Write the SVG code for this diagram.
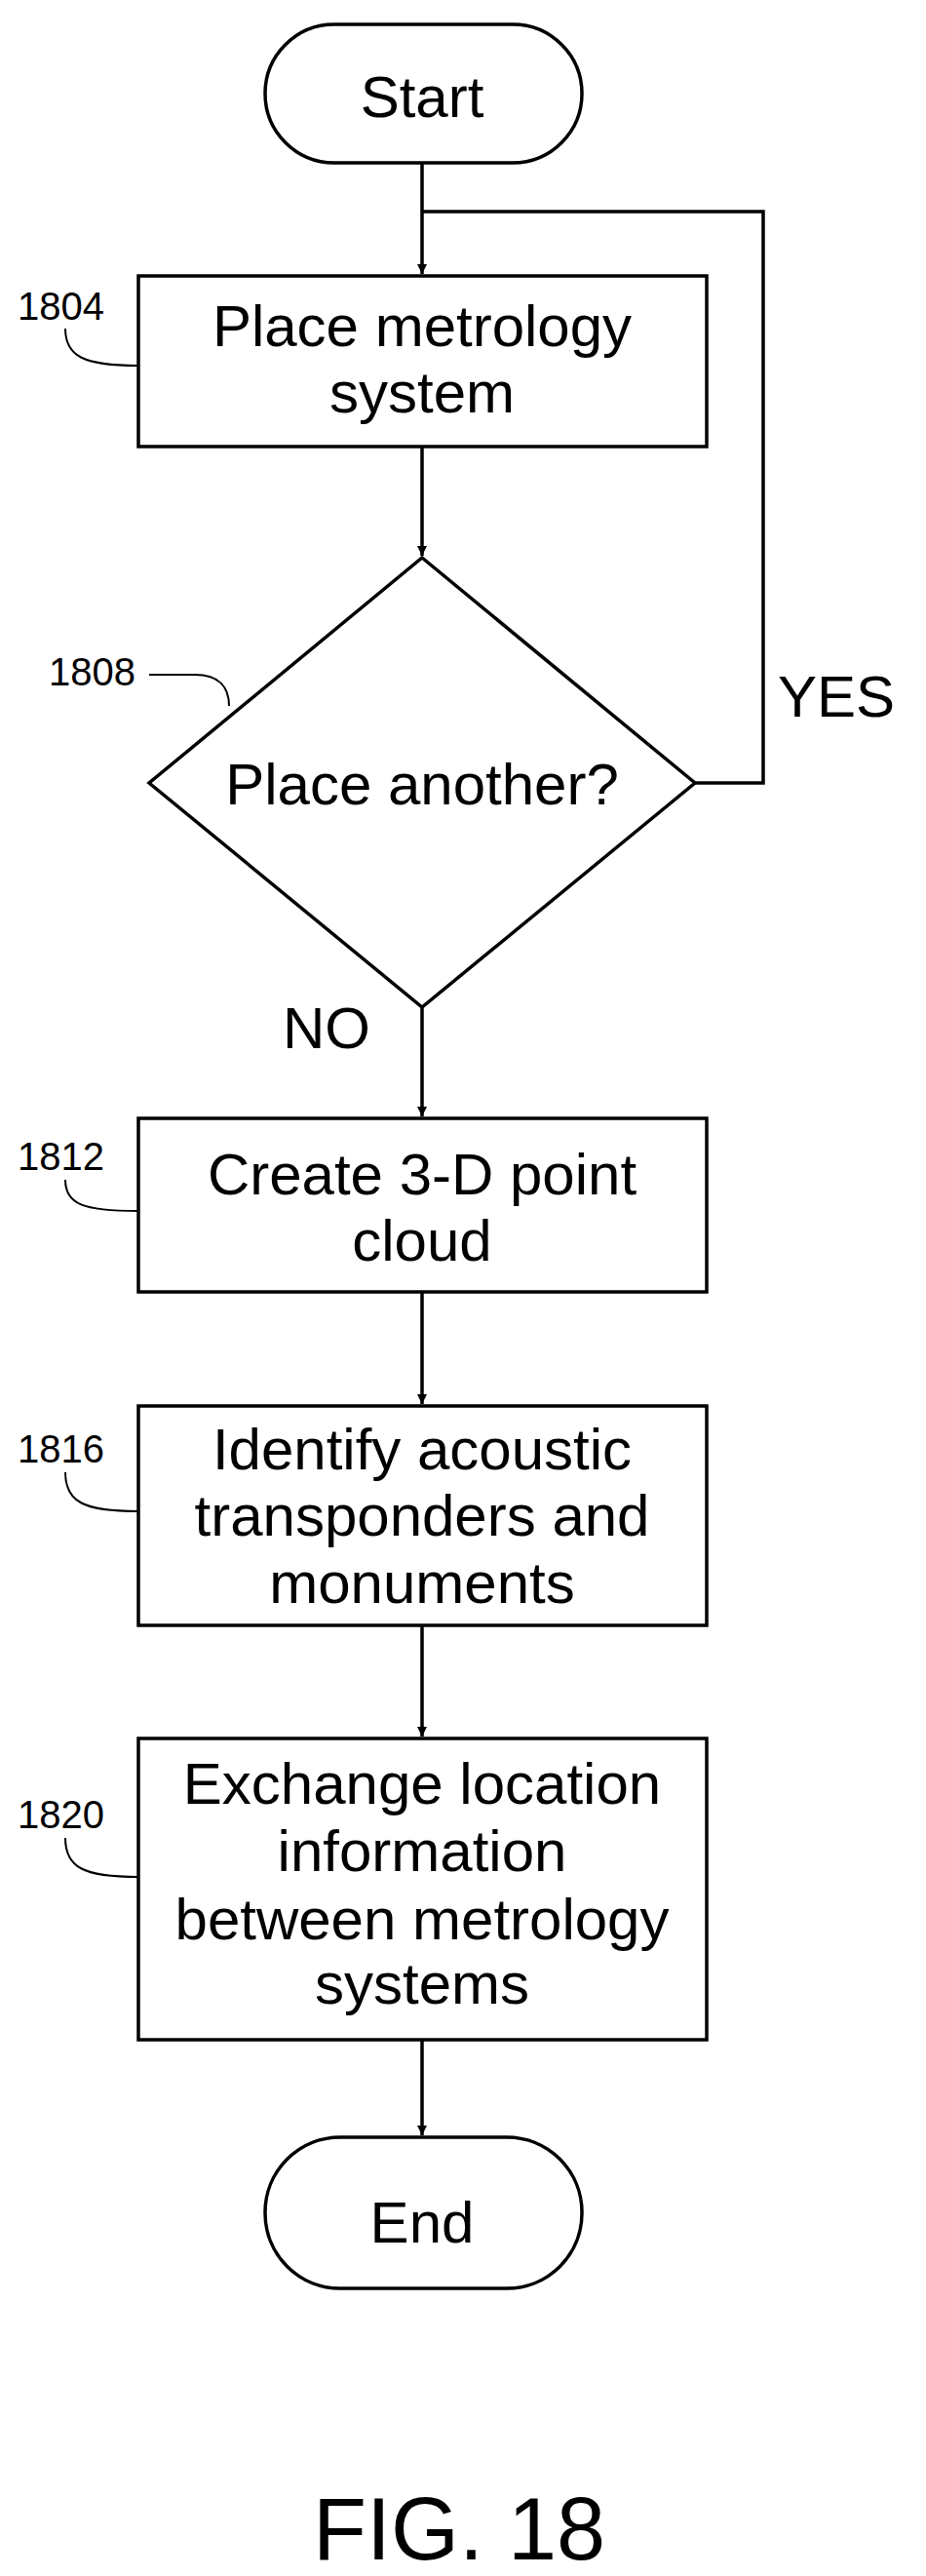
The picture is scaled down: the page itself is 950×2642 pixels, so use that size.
<svg xmlns="http://www.w3.org/2000/svg" width="950" height="2642" viewBox="0 0 950 2642">
<style>
.s{fill:#fff;stroke:#000;stroke-width:3.5}
.c{fill:none;stroke:#000;stroke-width:3.5}
.l{fill:none;stroke:#000;stroke-width:2}
.t{font-family:"Liberation Sans",Arial,sans-serif;font-size:60px;text-anchor:middle}
.r{font-family:"Liberation Sans",Arial,sans-serif;font-size:40px}
</style>
<defs><marker id="a" markerWidth="10" markerHeight="10" refX="10" refY="5" orient="auto" markerUnits="userSpaceOnUse" viewBox="0 0 10 10"><path d="M0,0 L10,5 L0,10 z" fill="#000"/></marker></defs>
<rect width="950" height="2642" fill="#fff"/>
<g id="connectors">
<path class="c" d="M433,167 V281" marker-end="url(#a)"/>
<path class="c" d="M713,803 H783 V217 H433"/>
<path class="c" d="M433,458 V570" marker-end="url(#a)"/>
<path class="c" d="M433,1033 V1145" marker-end="url(#a)"/>
<path class="c" d="M433,1325 V1440" marker-end="url(#a)"/>
<path class="c" d="M433,1667 V1781" marker-end="url(#a)"/>
<path class="c" d="M433,2092 V2190" marker-end="url(#a)"/>
<text class="t" x="858" y="735">YES</text>
<text class="t" x="335" y="1075">NO</text>
</g>
<g id="start"><rect class="s" x="272" y="25" width="325" height="142" rx="71"/><text class="t" x="433" y="120">Start</text></g>
<g id="n1804"><rect class="s" x="142" y="283" width="583" height="175"/><text class="t" x="433" y="355">Place metrology</text><text class="t" x="433" y="423">system</text>
<text class="r" x="18" y="328">1804</text><path class="l" d="M67,337 C67,365 85,375 142,375"/></g>
<g id="n1808"><polygon class="s" points="433,572 713,803 433,1033 153,803"/><text class="t" x="433" y="825">Place another?</text>
<text class="r" x="50" y="703">1808</text><path class="l" d="M153,692 H200 C225,692 235,705 235,724"/></g>
<g id="n1812"><rect class="s" x="142" y="1147" width="583" height="178"/><text class="t" x="433" y="1225">Create 3-D point</text><text class="t" x="433" y="1293">cloud</text>
<text class="r" x="18" y="1200">1812</text><path class="l" d="M67,1210 C67,1235 85,1242 142,1242"/></g>
<g id="n1816"><rect class="s" x="142" y="1442" width="583" height="225"/><text class="t" x="433" y="1507">Identify acoustic</text><text class="t" x="433" y="1575">transponders and</text><text class="t" x="433" y="1644">monuments</text>
<text class="r" x="18" y="1500">1816</text><path class="l" d="M67,1510 C67,1540 85,1550 142,1550"/></g>
<g id="n1820"><rect class="s" x="142" y="1783" width="583" height="309"/><text class="t" x="433" y="1850">Exchange location</text><text class="t" x="433" y="1919">information</text><text class="t" x="433" y="1989">between metrology</text><text class="t" x="433" y="2055">systems</text>
<text class="r" x="18" y="1875">1820</text><path class="l" d="M67,1885 C67,1915 85,1925 142,1925"/></g>
<g id="end"><rect class="s" x="272" y="2192" width="325" height="155" rx="77"/><text class="t" x="433" y="2300">End</text></g>
<text class="t" x="471" y="2625" style="font-size:90px">FIG. 18</text>
</svg>
